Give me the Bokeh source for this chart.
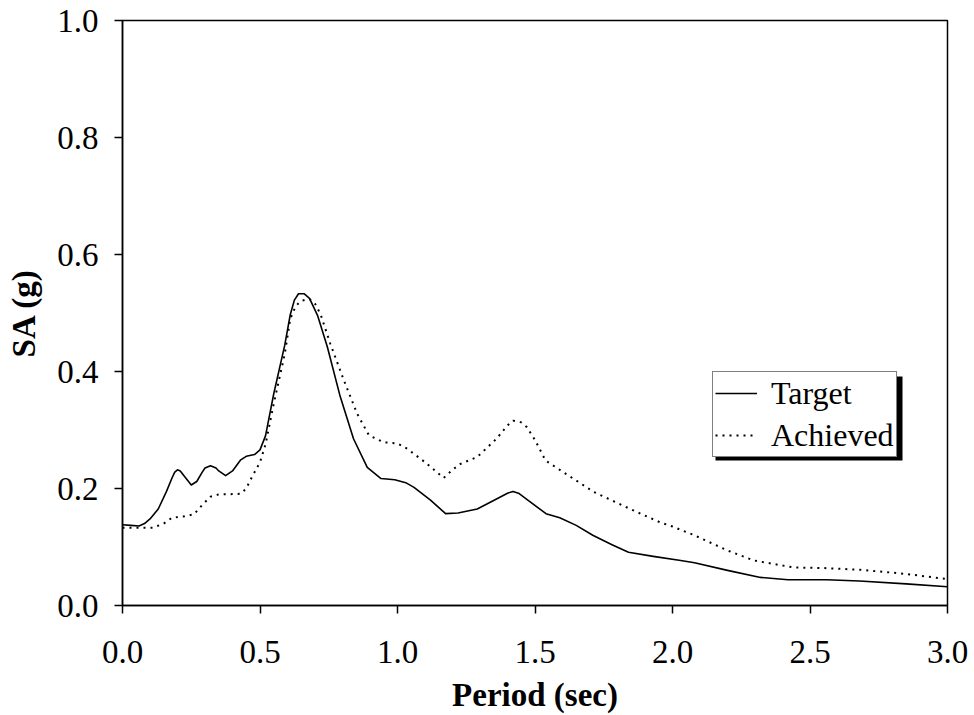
from bokeh.plotting import figure
from bokeh.models import Legend, LegendItem, Range1d, FixedTicker, BoxAnnotation
from bokeh.embed import file_html
from bokeh.resources import INLINE

# Spectral acceleration vs. period
target_period = [0.00, 0.03, 0.06, 0.08, 0.10, 0.13, 0.16, 0.18, 0.19, 0.20, 0.21, 0.22, 0.25,
                 0.27, 0.29, 0.30, 0.32, 0.34, 0.35, 0.375, 0.40, 0.43, 0.45, 0.48, 0.50, 0.52,
                 0.55, 0.59, 0.61, 0.625, 0.64, 0.66, 0.68, 0.71, 0.745, 0.79, 0.84, 0.89,
                 0.94, 0.99, 1.03, 1.06, 1.12, 1.175, 1.22, 1.29, 1.36, 1.40, 1.42, 1.44,
                 1.48, 1.54, 1.59, 1.65, 1.71, 1.78, 1.84, 1.93, 2.03, 2.08, 2.20, 2.32, 2.42,
                 2.56, 2.68, 2.85, 3.00]
target_sa = [0.138, 0.137, 0.136, 0.140, 0.148, 0.165, 0.195, 0.218, 0.228, 0.232, 0.230, 0.224,
             0.206, 0.212, 0.228, 0.235, 0.239, 0.235, 0.230, 0.222, 0.230, 0.249, 0.255, 0.258,
             0.266, 0.290, 0.362, 0.445, 0.497, 0.522, 0.533, 0.533, 0.525, 0.495, 0.442, 0.360,
             0.285, 0.236, 0.217, 0.215, 0.210, 0.202, 0.180, 0.157, 0.158, 0.165, 0.182, 0.192,
             0.195, 0.192, 0.178, 0.157, 0.150, 0.137, 0.120, 0.104, 0.091, 0.084, 0.077, 0.073,
             0.060, 0.048, 0.044, 0.044, 0.042, 0.037, 0.032]

achieved_period = [0.00, 0.05, 0.11, 0.15, 0.18, 0.22, 0.26, 0.29, 0.32, 0.35, 0.38, 0.43,
                   0.45, 0.47, 0.50, 0.52, 0.55, 0.59, 0.61, 0.63, 0.65, 0.68, 0.70, 0.72,
                   0.756, 0.805, 0.853, 0.896, 0.95, 1.00, 1.035, 1.10, 1.168, 1.20, 1.229,
                   1.29, 1.36, 1.40, 1.42, 1.45, 1.47, 1.50, 1.538, 1.593, 1.714, 1.86, 1.956,
                   2.00, 2.08, 2.20, 2.296, 2.44, 2.55, 2.684, 2.85, 3.00]
achieved_sa = [0.133, 0.133, 0.133, 0.140, 0.150, 0.152, 0.156, 0.172, 0.186, 0.190, 0.190, 0.191,
               0.200, 0.219, 0.245, 0.275, 0.345, 0.430, 0.490, 0.512, 0.521, 0.524, 0.516, 0.498,
               0.447, 0.385, 0.328, 0.291, 0.279, 0.277, 0.268, 0.245, 0.218, 0.232, 0.242,
               0.254, 0.285, 0.308, 0.316, 0.313, 0.305, 0.283, 0.248, 0.231, 0.194, 0.162, 0.142,
               0.135, 0.120, 0.094, 0.077, 0.065, 0.064, 0.061, 0.054, 0.045]

x_ticks = [0.0, 0.5, 1.0, 1.5, 2.0, 2.5, 3.0]
y_ticks = [0.0, 0.2, 0.4, 0.6, 0.8, 1.0]

SERIF = "Liberation Serif"
FRAME_W, FRAME_H = 825, 585
X_MAX, Y_MAX = 3.0, 1.0

p = figure(frame_width=FRAME_W, frame_height=FRAME_H, output_backend="svg",
           toolbar_location=None, x_range=Range1d(0, X_MAX), y_range=Range1d(0, Y_MAX),
           min_border_left=122, min_border_right=27, min_border_top=20, min_border_bottom=110)
p.width = 974
p.height = 715

p.grid.visible = False
p.outline_line_color = "black"
p.outline_line_width = 1.5
p.background_fill_color = "white"
p.border_fill_color = "white"

r_target = p.line(target_period, target_sa, line_color="black", line_width=1.6,
                  line_join="round")
r_achieved = p.line(achieved_period, achieved_sa, line_color="black", line_width=2,
                    line_dash="2 5", line_join="round")

for ax, ticks in ((p.xaxis[0], x_ticks), (p.yaxis[0], y_ticks)):
    ax.ticker = FixedTicker(ticks=ticks)
    ax.minor_tick_line_color = None
    ax.major_tick_in = 0
    ax.major_tick_out = 8
    ax.major_tick_line_width = 1.5
    ax.axis_line_width = 1.5
    ax.major_label_text_font = SERIF
    ax.major_label_text_font_size = "33px"
    ax.major_label_text_color = "black"
    ax.axis_label_text_font = SERIF
    ax.axis_label_text_font_style = "bold"
    ax.axis_label_text_font_size = "33px"
    ax.axis_label_text_color = "black"

p.xaxis.major_label_overrides = {t: f"{t:.1f}" for t in x_ticks}
p.yaxis.major_label_overrides = {t: f"{t:.1f}" for t in y_ticks}
p.xaxis.axis_label = "Period (sec)"
p.yaxis.axis_label = "SA (g)"
p.xaxis.major_label_standoff = 27
p.yaxis.major_label_standoff = 16
p.xaxis.axis_label_standoff = 11
p.yaxis.axis_label_standoff = 12

# Legend box placed by pixel offset from the frame's bottom-left corner
LEG_X, LEG_Y = 590, 148
LEG_W, LEG_H = 187, 84
SHADOW = 3

# Drop shadow behind the legend box (pixel offsets converted to data units)
px_x = X_MAX / FRAME_W
px_y = Y_MAX / FRAME_H
shadow = BoxAnnotation(left=(LEG_X + SHADOW) * px_x, right=(LEG_X + LEG_W + SHADOW) * px_x,
                       bottom=(LEG_Y - SHADOW) * px_y, top=(LEG_Y + LEG_H - SHADOW) * px_y,
                       fill_color="black", fill_alpha=1, line_color=None)
p.add_layout(shadow)

legend = Legend(items=[LegendItem(label="Target", renderers=[r_target]),
                       LegendItem(label="Achieved", renderers=[r_achieved])],
                location=(LEG_X, LEG_Y), orientation="vertical")
legend.label_text_font = SERIF
legend.label_text_font_size = "32px"
legend.label_text_color = "black"
legend.border_line_color = "black"
legend.border_line_width = 1.5
legend.background_fill_color = "white"
legend.background_fill_alpha = 1
legend.padding = 2
legend.spacing = 4
legend.margin = 0
legend.label_height = 38
legend.glyph_height = 38
legend.glyph_width = 42
legend.label_standoff = 14
p.add_layout(legend, "center")

open("out.html", "w").write(file_html(p, INLINE))
